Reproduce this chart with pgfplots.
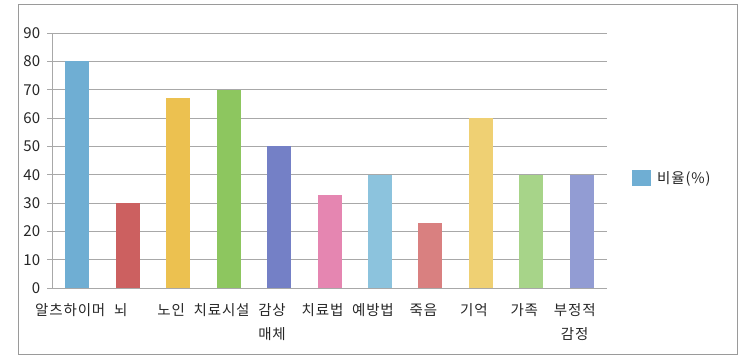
\documentclass[border=0pt]{standalone}
\usepackage{pgfplots}
\pgfplotsset{compat=1.18}
\usepackage{fontspec}
\setmainfont{Noto Sans CJK KR}
\newfontfamily\kr[LetterSpace=6]{Noto Sans CJK KR}
\definecolor{c1}{HTML}{6FAED3}
\definecolor{c2}{HTML}{CC6060}
\definecolor{c3}{HTML}{ECC150}
\definecolor{c4}{HTML}{8DC65F}
\definecolor{c5}{HTML}{7480C6}
\definecolor{c6}{HTML}{E586B1}
\definecolor{c7}{HTML}{8CC3DD}
\definecolor{c8}{HTML}{D98080}
\definecolor{c9}{HTML}{EFD073}
\definecolor{c10}{HTML}{A7D489}
\definecolor{c11}{HTML}{929CD3}
\definecolor{gridgray}{HTML}{A8A8A8}
\definecolor{framegray}{HTML}{9A9A9A}
\definecolor{txt}{HTML}{262626}
\begin{document}
\fontsize{14pt}{17pt}\selectfont
\begin{tikzpicture}
\path (0,0) rectangle (740pt,362pt);
\draw[framegray, line width=0.8pt] (18pt,8pt) rectangle (737pt,358pt);
\begin{axis}[
  at={(52pt,74pt)}, anchor=south west,
  scale only axis, width=555pt, height=255pt,
  xmin=0.5, xmax=11.5, ymin=0, ymax=90,
  ytick={0,10,...,90},
  xtick={1,...,11},
  xticklabels={알츠하이머,뇌,노인,치료시설,{감상\\매체},치료법,예방법,죽음,기억,가족,{부정적\\감정}},
  xticklabel style={align=center, font=\kr\fontsize{14.5pt}{24pt}\selectfont, text=txt, xshift=-7pt, yshift=-6pt},
  yticklabel style={font=\fontsize{15pt}{17pt}\selectfont, text=txt, xshift=-2pt},
  /pgf/number format/assume math mode=true,
  ymajorgrids, grid style={gridgray, line width=0.8pt},
  axis lines*=left, axis line style={gridgray, line width=0.8pt},
  xtick style={draw=none}, ytick style={gridgray, line width=0.8pt},
  tick align=outside, major tick length=5pt,
  ybar, bar width=24pt,
  every axis plot/.append style={bar shift=0pt, draw=none},
  legend style={at={(1.045,0.431)}, anchor=west, draw=none, fill=none, inner sep=0pt,
    font=\kr\fontsize{14.5pt}{17pt}\selectfont, text=txt,
    /tikz/every odd column/.append style={column sep=4pt}},
  legend image code/.code={\fill[#1] (0pt,-8pt) rectangle (19pt,8pt);},
]
\addplot[fill=c1] coordinates {(1,80)};
\addlegendentry{비율(\%)}
\addplot[fill=c2, forget plot] coordinates {(2,30)};
\addplot[fill=c3, forget plot] coordinates {(3,67)};
\addplot[fill=c4, forget plot] coordinates {(4,70)};
\addplot[fill=c5, forget plot] coordinates {(5,50)};
\addplot[fill=c6, forget plot] coordinates {(6,33)};
\addplot[fill=c7, forget plot] coordinates {(7,40)};
\addplot[fill=c8, forget plot] coordinates {(8,23)};
\addplot[fill=c9, forget plot] coordinates {(9,60)};
\addplot[fill=c10, forget plot] coordinates {(10,40)};
\addplot[fill=c11, forget plot] coordinates {(11,40)};
\end{axis}
\end{tikzpicture}
\end{document}
